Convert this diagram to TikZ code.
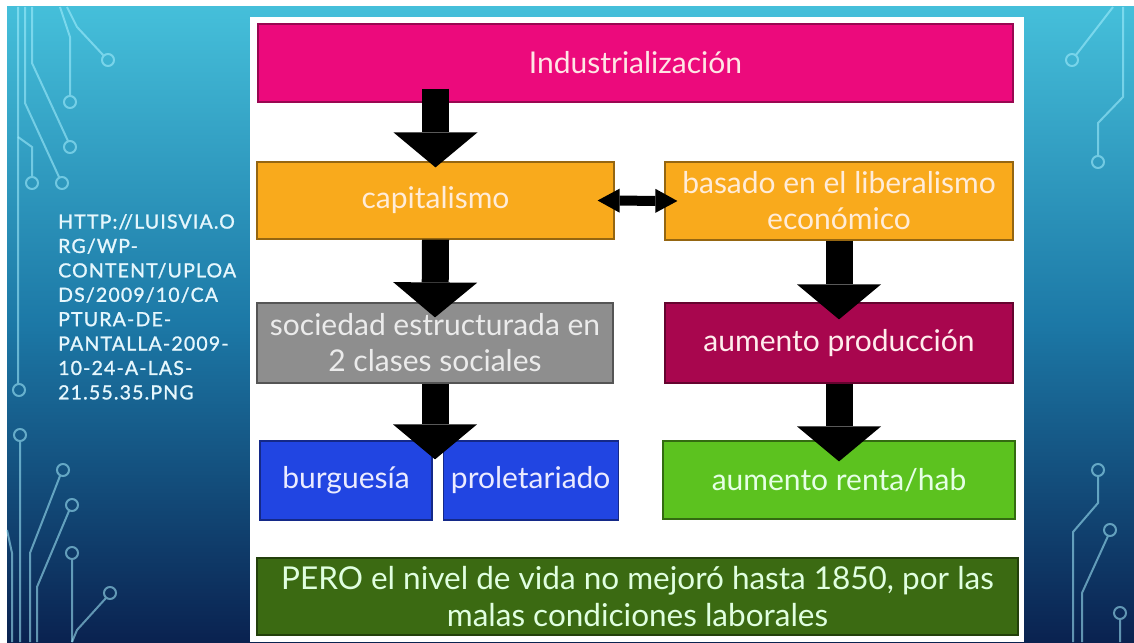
\documentclass[tikz,border=0pt]{standalone}
\usepackage{fontspec}
\setmainfont{Lato}
\usetikzlibrary{arrows.meta,positioning}

\definecolor{bgtop}{HTML}{45BFDA}
\definecolor{bgmid}{HTML}{1C78A6}
\definecolor{bgbot}{HTML}{0A2250}
\definecolor{wire}{HTML}{A8F0FF}
\definecolor{indpink}{HTML}{EC0A7C}
\definecolor{caporange}{HTML}{F9AA1C}
\definecolor{socgray}{HTML}{8E8E8E}
\definecolor{prodred}{HTML}{A8064E}
\definecolor{classblue}{HTML}{2145E2}
\definecolor{rentgreen}{HTML}{5CC21F}
\definecolor{perogreen}{HTML}{3B6A12}

\begin{document}
\begin{tikzpicture}[x=1pt,y=-1pt,font=\fontsize{30}{36}\selectfont]
  \tikzstyle{box}=[rectangle,inner sep=0pt,line width=1.2pt,align=center]
  \tikzstyle{bigarrow}=[line width=27pt,-{Triangle[width=84pt,length=35pt,line width=0pt 0 0]}]
  \tikzstyle{dblarrow}=[line width=10pt,{Triangle[width=24pt,length=22pt,line width=0pt 0 0]}-{Triangle[width=24pt,length=22pt,line width=0pt 0 0]}]
  \tikzstyle{wires}=[draw=wire,draw opacity=0.55,line width=2pt]

  \useasboundingbox (0,0) rectangle (1134,642);
  \fill[white] (0,0) rectangle (1134,642);
  \shade[top color=bgtop,bottom color=bgbot,middle color=bgmid] (7,7) rectangle (1134,642);

  % circuit lines, left
  \draw[wires] (18,7) -- (18,384) (19,390) circle (6);
  \draw[wires] (32,7) -- (32,63) -- (68,141) (70,147) circle (6);
  \draw[wires] (25,7) -- (25,103) -- (59,177) (62,183) circle (6);
  \draw[wires] (60,7) -- (70,37) -- (70,96) (70,102) circle (6);
  \draw[wires] (67,7) -- (77,27) -- (104,56) (108,60) circle (6);
  \draw[wires] (18,137) -- (32,147) -- (32,177) (32,183) circle (6);
  \draw[wires] (20,441) -- (20,642) (20,435) circle (6);
  \draw[wires] (60,476) -- (30,553) -- (30,642) (63,470) circle (6);
  \draw[wires] (69,511) -- (37,587) -- (37,642) (72,505) circle (6);
  \draw[wires] (72,559) -- (72,642) (72,553) circle (6);
  \draw[wires] (106,598) -- (77,630) -- (72,642) (110,593) circle (6);
  \draw[wires] (7,530) -- (12,553) -- (12,642);
  % circuit lines, right
  \draw[wires] (1113,7) -- (1076,55) (1072,60) circle (6);
  \draw[wires] (1123,7) -- (1123,97) -- (1098,123) -- (1098,156) (1098,162) circle (6);
  \draw[wires] (1098,476) -- (1098,503) -- (1073,532) -- (1073,642) (1098,470) circle (6);
  \draw[wires] (1108,536) -- (1082,593) -- (1082,642) (1110,530) circle (6);
  \draw[wires] (1120,619) -- (1120,642) (1120,613) circle (6);

  % source text
  \node[anchor=north west,align=left,inner sep=0pt,text=white!90!cyan,
        font=\fontsize{19.5}{24.4}\selectfont\addfontfeature{LetterSpace=6,FakeBold=1.2}] (src) at (58,214)
    {HTTP://LUISVIA.O\\RG/WP-\\CONTENT/UPLOA\\DS/2009/10/CA\\PTURA-DE-\\PANTALLA-2009-\\10-24-A-LAS-\\21.55.35.PNG};

  % slide panel
  \fill[white] (250,17) rectangle (1024,642);

  \node[box,fill=indpink,draw=indpink!65!black,text=pink!40!white,
        minimum width=755,minimum height=78] (ind) at (635.5,63) {Industrialización};
  \node[box,fill=caporange,draw=caporange!60!black,text=orange!15!white,
        minimum width=357,minimum height=77] (cap) at (435.5,200.5) {capitalismo};
  \node[box,fill=caporange,draw=caporange!60!black,text=orange!15!white,
        minimum width=348,minimum height=78] (bas) at (839,201) {basado en el liberalismo\\económico};
  \node[box,fill=socgray,draw=socgray!60!black,text=white!92!black,
        minimum width=356,minimum height=80] (soc) at (435,343) {sociedad estructurada en\\2 clases sociales};
  \node[box,fill=prodred,draw=prodred!60!black,text=pink!30!white,
        minimum width=348,minimum height=80] (pro) at (839,343) {aumento producción};
  \node[box,fill=classblue,draw=classblue!60!black,text=blue!8!white,
        minimum width=172,minimum height=79] (bur) at (346,480.5) {burguesía};
  \node[box,fill=classblue,draw=classblue!60!black,text=blue!8!white,
        minimum width=175,minimum height=79,right=10pt of bur] (prol) {proletariado};
  \node[box,fill=rentgreen,draw=rentgreen!55!black,text=green!10!white,
        minimum width=352,minimum height=78] (ren) at (839,480) {aumento renta/hab};
  \node[box,fill=perogreen,draw=perogreen!60!black,text=green!12!white,
        minimum width=761,minimum height=77,font=\fontsize{31.5}{37}\selectfont] (pero) at (637.5,596.5)
    {PERO el nivel de vida no mejoró hasta 1850, por las\\malas condiciones laborales};

  \draw[bigarrow,shorten <=-14pt] (cap.north |- ind.south) -- ([yshift=-6pt]cap.north);
  \draw[bigarrow] (cap.south) -- ([yshift=-15pt]soc.north);
  \draw[bigarrow] (soc.south) -- ([yshift=-19pt]soc.south |- bur.north);
  \draw[bigarrow] (bas.south) -- ([yshift=-17pt]pro.north);
  \draw[bigarrow] (pro.south) -- ([yshift=-21pt]ren.north);
  \draw[dblarrow] ([xshift=-17pt]cap.east) -- ([xshift=13pt]bas.west);
\end{tikzpicture}
\end{document}
